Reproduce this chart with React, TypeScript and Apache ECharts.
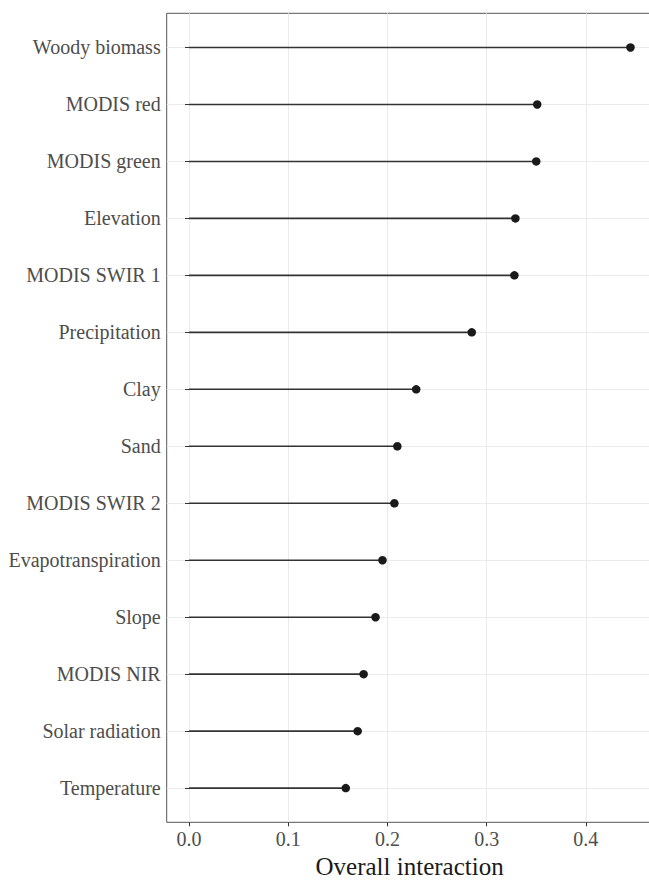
import React, { useEffect, useRef } from "react";
import * as echarts from "echarts";

const categories = [
  "Woody biomass",
  "MODIS red",
  "MODIS green",
  "Elevation",
  "MODIS SWIR 1",
  "Precipitation",
  "Clay",
  "Sand",
  "MODIS SWIR 2",
  "Evapotranspiration",
  "Slope",
  "MODIS NIR",
  "Solar radiation",
  "Temperature",
];
const values = [0.445, 0.351, 0.35, 0.329, 0.328, 0.285, 0.229, 0.21, 0.207, 0.195, 0.188, 0.176, 0.17, 0.158];
const xTicks = [0, 0.1, 0.2, 0.3, 0.4];
const xMin = -0.0225;
const xMax = 0.4672;

const FONT = "Liberation Serif";

export default function App() {
  const ref = useRef<HTMLDivElement>(null);
  useEffect(() => {
    if (!ref.current) return;
    const chart = echarts.init(ref.current, null, { renderer: "svg" });
    const panelLeft = 166.7;
    const panelTop = 13.3;
    const panelBottom = 822.3;
    const panelWidth = 485.8;
    const unit = (panelBottom - panelTop) / (categories.length - 1 + 1.2);
    const catTop = panelTop + 0.6 * unit;
    const catHeight = unit * (categories.length - 1);
    chart.setOption({
      animation: false,
      backgroundColor: "#ffffff",
      textStyle: { fontFamily: FONT },
      grid: [
        {
          left: panelLeft,
          top: panelTop,
          width: panelWidth,
          height: panelBottom - panelTop,
          show: true,
          borderColor: "#555555",
          borderWidth: 1,
          backgroundColor: "transparent",
          containLabel: false,
          outerBoundsMode: "none",
          z: 0,
        },
        {
          left: panelLeft,
          top: catTop,
          width: panelWidth,
          height: catHeight,
          show: false,
          containLabel: false,
          outerBoundsMode: "none",
        },
      ],
      xAxis: [
        {
          type: "value",
          gridIndex: 0,
          min: xMin,
          max: xMax,
          axisLine: { show: false },
          axisTick: {
            show: true,
            length: 4,
            lineStyle: { color: "#333333", width: 1 },
            customValues: xTicks,
          },
          axisLabel: {
            show: true,
            customValues: xTicks,
            formatter: (v: number) => v.toFixed(1),
            color: "#4d4d4d",
            fontFamily: FONT,
            fontSize: 20,
            margin: 7,
          },
          splitLine: { show: true, lineStyle: { color: "#ebebeb", width: 1 } },
          name: "Overall interaction",
          nameLocation: "middle",
          nameGap: 34.5,
          nameTextStyle: {
            color: "#1a1a1a",
            fontFamily: FONT,
            fontSize: 25,
            lineHeight: 20,
            verticalAlign: "top",
          },
        },
        {
          type: "value",
          gridIndex: 1,
          min: xMin,
          max: xMax,
          show: false,
          splitLine: { show: false },
        },
      ],
      yAxis: [
        {
          type: "value",
          gridIndex: 0,
          show: false,
          splitLine: { show: false },
        },
        {
          type: "category",
          gridIndex: 1,
          data: categories,
          inverse: true,
          boundaryGap: false,
          axisLine: { show: false },
          axisTick: {
            show: true,
            length: 4,
            alignWithLabel: true,
            lineStyle: { color: "#333333", width: 1 },
          },
          axisLabel: {
            color: "#4d4d4d",
            fontFamily: FONT,
            fontSize: 20,
            margin: 6,
            interval: 0,
          },
          splitLine: { show: true, lineStyle: { color: "#ebebeb", width: 1 } },
        },
      ],
      series: [
        {
          type: "custom",
          xAxisIndex: 1,
          yAxisIndex: 1,
          data: values.map((v, i) => [v, i]),
          renderItem: (params: any, api: any) => {
            const v = api.value(0);
            const i = api.value(1);
            const p0 = api.coord([0, i]);
            const p1 = api.coord([v, i]);
            return {
              type: "line",
              shape: { x1: p0[0], y1: p0[1], x2: p1[0], y2: p1[1] },
              style: { stroke: "#333333", lineWidth: 1.6 },
            };
          },
          z: 2,
        },
        {
          type: "scatter",
          xAxisIndex: 1,
          yAxisIndex: 1,
          data: values.map((v, i) => [v, i]),
          symbol: "circle",
          symbolSize: 8.5,
          itemStyle: { color: "#1a1a1a", opacity: 1 },
          z: 3,
        },
      ],
    });
    return () => chart.dispose();
  }, []);
  return (
    <div style={{ position: "fixed", left: 0, top: 0, width: 649, height: 882, overflow: "hidden", background: "#fff" }}>
      <div ref={ref} style={{ position: "absolute", left: 0, top: 0, width: 660, height: 882 }} />
    </div>
  );
}
